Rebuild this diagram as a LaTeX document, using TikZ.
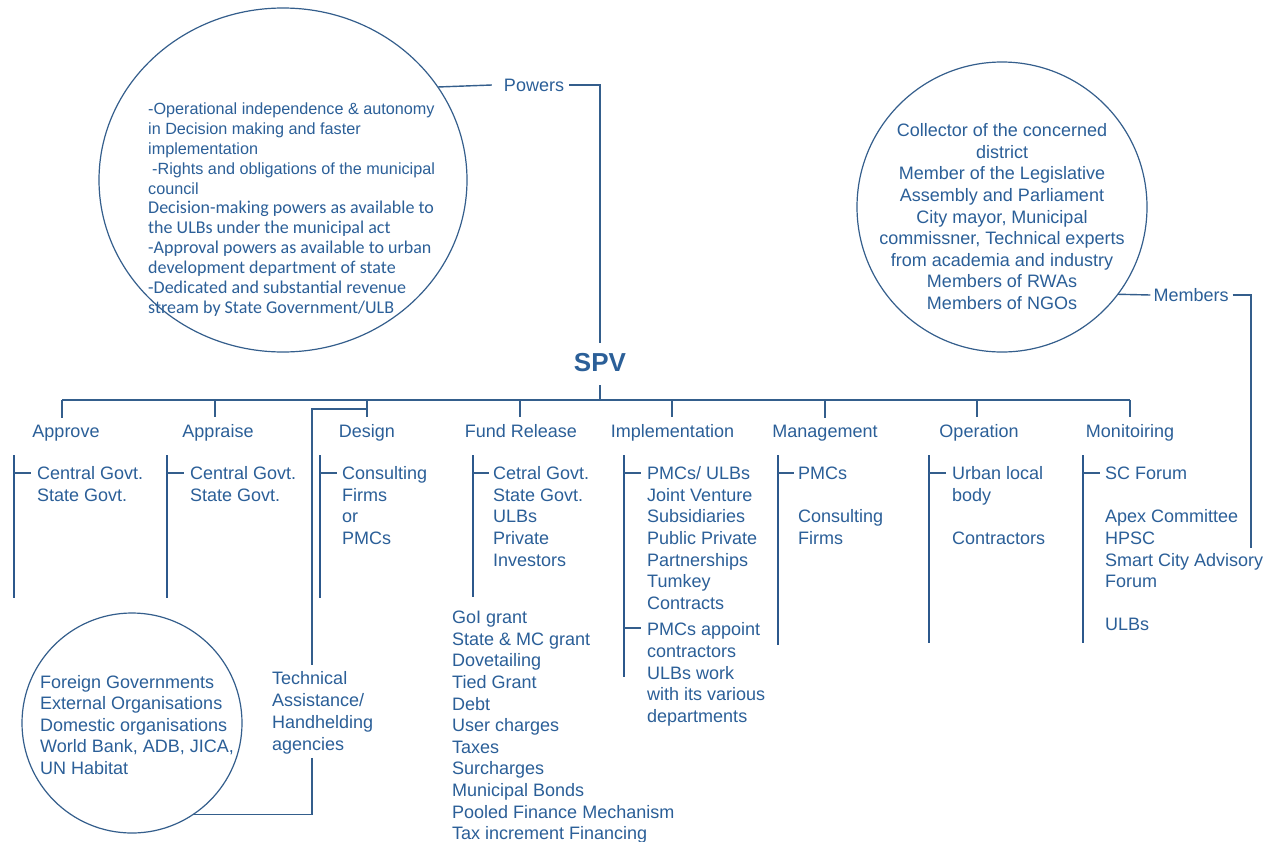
\documentclass[tikz,border=0pt]{standalone}
\usepackage{fontspec}
\setmainfont{Liberation Sans}
\newfontfamily\carl{Carlito}
\usetikzlibrary{shapes.geometric}
\definecolor{txt}{RGB}{43,95,152}
\definecolor{ln}{RGB}{52,94,140}
\definecolor{barc}{RGB}{44,88,140}
\tikzset{
  hd/.style={font=\fontsize{18}{21.6}\selectfont, text=txt, inner sep=0pt, anchor=base},
  lst/.style={font=\fontsize{18}{21.6}\selectfont, text=txt, inner sep=0pt, anchor=north west, align=left},
  lbl/.style={font=\fontsize{18}{21.6}\selectfont, text=txt, inner sep=0pt, anchor=center},
  thinln/.style={draw=ln, line width=1.4pt},
  barline/.style={draw=barc, line width=2.8pt},
  tick/.style={draw=ln, line width=1.2pt},
  circ/.style={draw=ln, line width=1.2pt, circle, inner sep=0pt, outer sep=0pt},
}
\begin{document}
\begin{tikzpicture}[x=1pt,y=-1pt]
\useasboundingbox[fill=white] (0,0) rectangle (1276,841);

% ---------- top-left "Powers" ellipse ----------
\node[ellipse, draw=ln, line width=1.2pt, minimum width=368pt, minimum height=344pt, inner sep=0pt, outer sep=0pt] (pc) at (283,180) {};
\node[lst, font=\fontsize{16.2}{20}\selectfont] (pt1) at (148,99.8)
  {\strut-Operational independence \& autonomy\\in Decision making and faster\\implementation\\\hspace*{4pt}-Rights and obligations of the municipal\\council};
\node[lst, font=\carl\fontsize{18}{20}\selectfont] (pt2) at (148,199.3)
  {\strut Decision-making powers as available to\\the ULBs under the municipal act\\-Approval powers as available to urban\\development department of state\\-Dedicated and substantial revenue\\stream by State Government/ULB};

\node[lbl] (pw) at (534,85) {Powers};
\node[font=\bfseries\fontsize{26}{30}\selectfont, text=txt, inner sep=0pt, anchor=center] (spv) at (600,363) {SPV};

\draw[thinln] (pc.31.8) -- ([xshift=-12pt]pw.west);
\draw[thinln] ([xshift=5pt]pw.east) -| ([yshift=10.7pt]spv.north);

% ---------- top-right "Members" circle ----------
\node[circ, minimum size=290pt] (mc) at (1002,207) {};
\node[font=\fontsize{18}{21.6}\selectfont, text=txt, inner sep=0pt, anchor=north, align=center] (mt) at (1002,121.3)
  {\strut Collector of the concerned\\district\\Member of the Legislative\\Assembly and Parliament\\City mayor, Municipal\\commissner, Technical experts\\from academia and industry\\Members of RWAs\\Members of NGOs};
\node[lbl] (mb) at (1191,295) {Members};
\coordinate (mend) at (1251,548);
\draw[thinln] (mc.-37.4) -- ([xshift=-3pt]mb.west);
\draw[thinln] ([xshift=4pt]mb.east) -| (mend);

% ---------- bus ----------
\coordinate (b1) at (62,400);
\coordinate (b2) at (215,400);
\coordinate (b3) at (367,400);
\coordinate (b4) at (520,400);
\coordinate (b5) at (672,400);
\coordinate (b6) at (825,400);
\coordinate (b7) at (977,400);
\coordinate (b8) at (1130,400);
\draw[thinln] ([yshift=-13pt]spv.south) -- (spv.south |- b1);
\draw[thinln] (b1) -- (b8);

\node[hd] (hA) at (66,437.4) {Approve};
\node[hd] (hB) at (218,437.4) {Appraise};
\node[hd] (hC) at (367,437.4) {Design};
\node[hd] (hD) at (521,437.4) {Fund Release};
\node[hd] (hE) at (672.5,437.4) {Implementation};
\node[hd] (hF) at (825,437.4) {Management};
\node[hd] (hG) at (979,437.4) {Operation};
\node[hd] (hH) at (1130,437.4) {Monitoiring};

\foreach \b/\h in {b1/hA,b2/hB,b3/hC,b4/hD,b5/hE,b6/hF,b7/hG,b8/hH}
  \draw[thinln, shorten >=7pt] (\b) -- (\b |- \h.north);

% ---------- column bars ----------
\draw[barline] (14,455) -- (14,598);   \draw[tick] (14,473) -- (31,473);
\draw[barline] (167,455) -- (167,598); \draw[tick] (167,473) -- (184,473);
\draw[barline] (320,455) -- (320,598); \draw[tick] (320,473) -- (337,473);
\draw[barline] (473,455) -- (473,597); \draw[tick] (473,473) -- (489,473);
\draw[barline] (624,455) -- (624,677); \draw[tick] (624,473) -- (641,473); \draw[tick] (624,628) -- (641,628);
\draw[barline] (778,455) -- (778,645); \draw[tick] (778,473) -- (794,473);
\draw[barline] (929,455) -- (929,643); \draw[tick] (929,473) -- (946,473);
\draw[barline] (1083,455) -- (1083,643); \draw[tick] (1083,473) -- (1100,473);

% ---------- column lists ----------
\node[lst] (lA) at (37,464.3) {\strut Central Govt.\\State Govt.};
\node[lst] (lB) at (190,464.3) {\strut Central Govt.\\State Govt.};
\node[lst] (lC) at (342,464.3) {\strut Consulting\\Firms\\or\\PMCs};
\node[lst] (lD) at (493,464.3) {\strut Cetral Govt.\\State Govt.\\ULBs\\Private\\Investors};
\node[lst] (lD2) at (452,608.3) {\strut GoI grant\\State \& MC grant\\Dovetailing\\Tied Grant\\Debt\\User charges\\Taxes\\Surcharges\\Municipal Bonds\\Pooled Finance Mechanism\\Tax increment Financing};
\node[lst] (lE) at (647,464.3) {\strut PMCs/ ULBs\\Joint Venture\\Subsidiaries\\Public Private\\Partnerships\\Tumkey\\Contracts\\[5pt]PMCs appoint\\contractors\\ULBs work\\with its various\\departments};
\node[lst] (lF) at (798,464.3) {\strut PMCs\\[21.6pt]Consulting\\Firms};
\node[lst] (lG) at (952,464.3) {\strut Urban local\\body\\[21.6pt]Contractors};
\node[lst] (lH) at (1105,464.3) {\strut SC Forum\\[21.6pt]Apex Committee\\HPSC\\Smart City Advisory\\Forum\\[21.6pt]ULBs};

% ---------- bottom-left circle ----------
\node[circ, minimum size=220pt] (fc) at (132,723) {};
\node[lst, font=\fontsize{18}{21.4}\selectfont] (ft) at (40,673.3)
  {\strut Foreign Governments\\External Organisations\\Domestic organisations\\World Bank, ADB, JICA,\\UN Habitat};
\node[lst, font=\fontsize{18}{22}\selectfont] (ta) at (272,669.3)
  {\strut Technical\\Assistance/\\Handhelding\\agencies};
\coordinate (dz) at (367,409);
\coordinate (vx) at (312,409);
\draw[thinln] (dz) -- (vx) -- ([yshift=4pt]vx |- ta.north);
\draw[thinln] ([yshift=-3pt]vx |- ta.south) -- (vx |- fc.-56.8) -- (fc.-56.8);
\end{tikzpicture}
\end{document}
